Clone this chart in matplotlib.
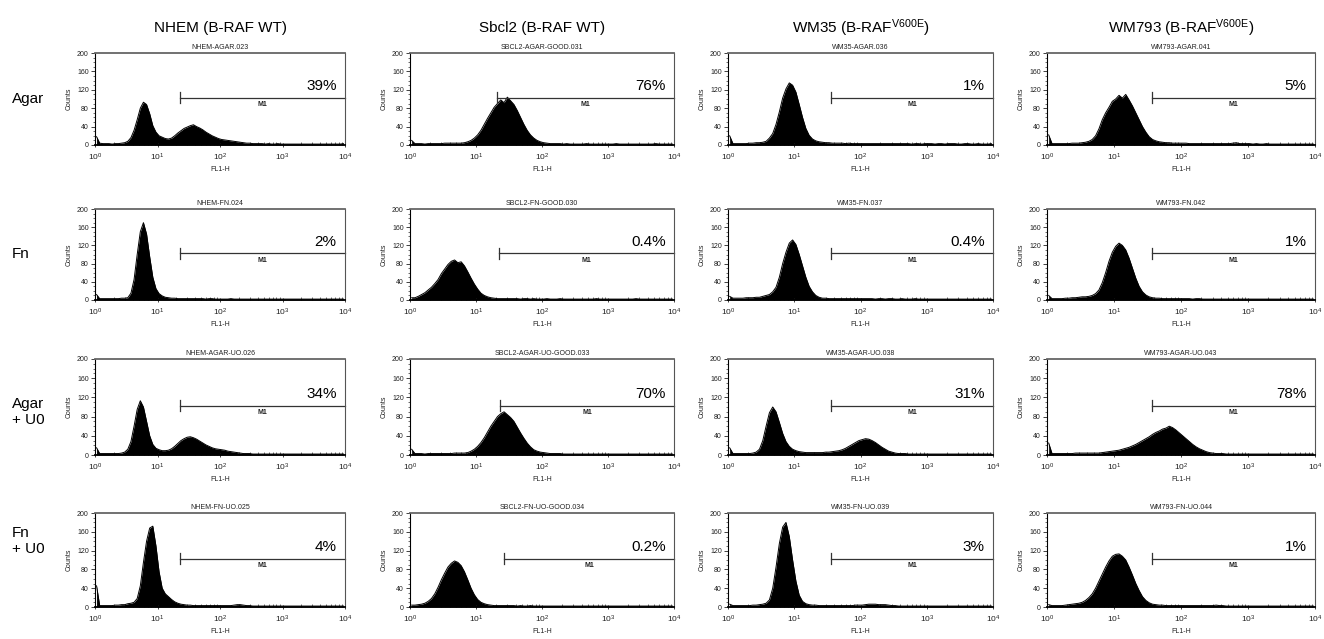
"""
plot.py

FL1-H histograms for four cell lines grown on agar / fibronectin,
with and without U0126.
"""

import matplotlib
matplotlib.use("Agg")
import matplotlib.pyplot as plt
import numpy as np
from matplotlib.ticker import MultipleLocator, LogLocator, NullFormatter


# ---------------------------------------------------------
# Common Plot Style
# ---------------------------------------------------------

plt.rcParams["font.family"] = ["Liberation Sans", "DejaVu Sans"]
plt.rcParams["mathtext.default"] = "regular"


# ---------------------------------------------------------
# Data (counts per 0.05-decade bin, 10^0 .. 10^4)
# ---------------------------------------------------------

nhem_agar = [18, 4, 3, 3, 3, 2, 3, 3, 4, 5,
             8, 16, 32, 55, 80, 93, 88, 68, 42, 28,
             20, 17, 14, 13, 15, 20, 26, 31, 36, 39,
             42, 44, 40, 37, 33, 28, 24, 20, 17, 14,
             12, 11, 10, 9, 8, 7, 6, 5, 4, 4,
             3, 3, 3, 3, 2, 3, 2, 2, 3, 2,
             2, 2, 2, 2, 2, 2, 2, 2, 2, 2,
             2, 2, 2, 2, 2, 2, 2, 2, 2, 3]
sbcl2_agar = [10, 3, 3, 3, 2, 3, 3, 3, 3, 3,
              4, 4, 4, 4, 4, 4, 5, 7, 10, 15,
              22, 32, 45, 58, 70, 82, 90, 98, 92, 104,
              96, 88, 75, 60, 45, 32, 22, 15, 10, 7,
              5, 4, 3, 3, 3, 3, 2, 3, 2, 2,
              2, 2, 2, 3, 2, 2, 2, 2, 2, 2,
              2, 2, 3, 2, 2, 2, 2, 2, 2, 2,
              2, 2, 2, 2, 3, 2, 2, 2, 2, 2]
wm35_agar = [20, 3, 3, 3, 3, 3, 4, 4, 5, 5,
             6, 8, 15, 25, 45, 72, 102, 122, 135, 130,
             115, 88, 60, 36, 21, 13, 9, 7, 6, 5,
             5, 4, 4, 4, 4, 3, 4, 3, 3, 3,
             3, 3, 3, 3, 3, 3, 3, 3, 3, 3,
             3, 3, 3, 3, 3, 2, 3, 3, 2, 3,
             3, 3, 2, 3, 3, 2, 3, 3, 3, 2,
             2, 3, 3, 2, 2, 3, 2, 2, 2, 3]
wm793_agar = [22, 3, 3, 3, 3, 3, 3, 4, 4, 4,
              5, 6, 8, 12, 20, 35, 55, 70, 82, 95,
              100, 108, 102, 110, 98, 85, 70, 55, 40, 28,
              18, 12, 9, 7, 6, 5, 5, 4, 4, 4,
              4, 4, 3, 3, 3, 3, 3, 3, 3, 3,
              3, 3, 3, 3, 3, 4, 5, 3, 3, 3,
              3, 2, 3, 2, 2, 3, 2, 2, 2, 2,
              2, 2, 2, 2, 2, 2, 2, 2, 2, 2]

nhem_fn = [12, 3, 3, 3, 3, 3, 3, 3, 4, 4,
           5, 15, 45, 100, 150, 170, 145, 95, 50, 25,
           14, 9, 6, 5, 4, 4, 3, 3, 3, 3,
           3, 3, 3, 3, 3, 2, 3, 3, 2, 2,
           2, 2, 2, 3, 2, 2, 2, 2, 2, 2,
           2, 2, 2, 2, 2, 2, 2, 2, 2, 2,
           2, 2, 2, 2, 2, 2, 2, 2, 2, 2,
           2, 2, 2, 2, 2, 2, 2, 2, 2, 2]
sbcl2_fn = [5, 5, 8, 12, 16, 22, 28, 36, 45, 58,
            68, 78, 85, 88, 82, 84, 75, 62, 48, 35,
            24, 15, 10, 7, 5, 4, 3, 3, 3, 3,
            3, 3, 3, 2, 3, 3, 2, 3, 2, 2,
            2, 3, 2, 2, 2, 3, 2, 2, 2, 2,
            2, 2, 2, 2, 2, 2, 3, 2, 2, 2,
            2, 2, 2, 2, 2, 2, 2, 2, 3, 2,
            2, 2, 2, 2, 2, 2, 2, 2, 2, 2]
wm35_fn = [8, 4, 4, 4, 4, 5, 5, 5, 6, 6,
           8, 10, 12, 18, 28, 50, 80, 105, 125, 132,
           122, 100, 75, 50, 30, 18, 10, 6, 4, 4,
           3, 3, 3, 3, 3, 3, 3, 3, 3, 3,
           3, 3, 3, 3, 2, 3, 3, 2, 3, 3,
           2, 2, 3, 2, 2, 2, 3, 2, 2, 2,
           2, 2, 2, 2, 2, 2, 2, 2, 2, 2,
           2, 2, 2, 2, 2, 2, 2, 2, 2, 2]
wm793_fn = [10, 3, 3, 3, 3, 4, 4, 5, 5, 6,
            7, 7, 8, 10, 14, 22, 38, 60, 85, 105,
            118, 125, 120, 110, 92, 70, 48, 30, 18, 11,
            7, 5, 4, 4, 3, 3, 3, 3, 3, 3,
            3, 3, 3, 2, 3, 3, 2, 2, 2, 2,
            2, 2, 2, 2, 2, 2, 2, 2, 2, 2,
            2, 2, 2, 2, 2, 2, 2, 2, 2, 2,
            2, 2, 2, 2, 2, 2, 2, 2, 2, 2]

nhem_agar_u0 = [15, 3, 3, 3, 3, 3, 3, 3, 4, 6,
                12, 28, 60, 95, 113, 100, 70, 40, 22, 14,
                11, 9, 9, 10, 13, 18, 24, 30, 34, 37,
                38, 36, 33, 29, 25, 21, 18, 15, 13, 12,
                11, 10, 8, 7, 6, 5, 4, 3, 3, 3,
                2, 2, 2, 2, 2, 2, 2, 2, 2, 2,
                2, 2, 2, 2, 2, 2, 2, 2, 2, 2,
                2, 2, 2, 2, 2, 2, 2, 2, 2, 2]
sbcl2_agar_u0 = [12, 3, 3, 3, 2, 3, 3, 3, 3, 3,
                 3, 3, 3, 4, 4, 4, 4, 5, 8, 12,
                 18, 26, 36, 48, 60, 70, 80, 86, 90, 84,
                 78, 70, 58, 46, 35, 25, 17, 11, 8, 6,
                 5, 4, 3, 3, 3, 3, 2, 2, 2, 2,
                 2, 2, 2, 2, 2, 2, 2, 2, 2, 2,
                 2, 2, 2, 2, 2, 2, 2, 2, 2, 2,
                 2, 2, 2, 2, 2, 2, 2, 2, 2, 2]
wm35_agar_u0 = [15, 3, 3, 3, 3, 3, 3, 4, 6, 12,
                30, 60, 88, 100, 90, 68, 45, 28, 18, 12,
                9, 7, 6, 5, 5, 5, 5, 5, 5, 6,
                6, 7, 8, 9, 11, 14, 18, 22, 26, 30,
                32, 34, 33, 30, 26, 21, 16, 12, 8, 6,
                4, 3, 3, 3, 2, 2, 2, 2, 2, 2,
                2, 2, 2, 2, 2, 2, 2, 2, 2, 2,
                2, 2, 2, 2, 2, 2, 2, 2, 2, 2]
wm793_agar_u0 = [25, 3, 3, 3, 3, 3, 3, 3, 4, 4,
                 4, 4, 4, 4, 4, 4, 5, 6, 7, 8,
                 9, 10, 12, 14, 16, 19, 22, 26, 30, 34,
                 38, 43, 47, 50, 54, 56, 60, 57, 52, 46,
                 40, 34, 28, 22, 17, 13, 10, 7, 5, 4,
                 3, 3, 3, 2, 2, 2, 2, 2, 2, 2,
                 2, 2, 2, 2, 2, 2, 2, 2, 2, 2,
                 2, 2, 2, 2, 2, 2, 2, 2, 2, 2]

nhem_fn_u0 = [45, 3, 3, 3, 3, 3, 4, 4, 5, 5,
              7, 8, 10, 18, 45, 95, 140, 168, 172, 130,
              75, 40, 28, 22, 16, 11, 8, 6, 5, 4,
              4, 3, 3, 3, 3, 3, 3, 3, 3, 3,
              3, 3, 3, 3, 4, 5, 5, 4, 3, 3,
              2, 2, 2, 2, 2, 2, 2, 2, 2, 2,
              2, 2, 2, 2, 2, 2, 2, 2, 2, 2,
              2, 2, 2, 2, 2, 2, 2, 2, 2, 2]
sbcl2_fn_u0 = [4, 4, 5, 6, 8, 12, 18, 28, 42, 58,
               72, 85, 93, 98, 95, 88, 75, 58, 40, 26,
               16, 10, 7, 5, 4, 3, 3, 3, 3, 3,
               3, 3, 2, 3, 2, 2, 3, 2, 2, 2,
               2, 2, 2, 2, 2, 2, 2, 2, 2, 2,
               2, 2, 2, 2, 2, 2, 2, 2, 2, 2,
               2, 2, 2, 2, 2, 2, 2, 2, 2, 2,
               2, 2, 2, 2, 2, 2, 2, 2, 2, 2]
wm35_fn_u0 = [6, 3, 3, 3, 3, 3, 3, 4, 4, 5,
              6, 8, 15, 40, 85, 135, 170, 180, 150, 100,
              55, 25, 12, 7, 5, 4, 4, 3, 3, 3,
              3, 3, 3, 3, 3, 3, 3, 3, 4, 4,
              4, 5, 6, 6, 6, 5, 5, 5, 4, 3,
              3, 2, 2, 2, 2, 2, 2, 2, 2, 2,
              2, 2, 2, 2, 2, 2, 2, 2, 2, 2,
              2, 2, 2, 2, 2, 2, 2, 2, 2, 2]
wm793_fn_u0 = [5, 3, 3, 3, 3, 4, 5, 6, 7, 8,
               10, 14, 20, 28, 40, 55, 70, 85, 98, 108,
               112, 113, 108, 100, 85, 68, 50, 35, 22, 14,
               9, 6, 5, 4, 4, 3, 3, 3, 3, 3,
               3, 3, 3, 3, 3, 3, 3, 3, 3, 3,
               4, 3, 3, 2, 2, 2, 2, 2, 2, 2,
               2, 2, 2, 2, 2, 2, 2, 2, 2, 2,
               2, 2, 2, 2, 2, 2, 2, 2, 2, 2]

cell_lines = [
    "NHEM (B-RAF WT)",
    "Sbcl2 (B-RAF WT)",
    "WM35 (B-RAF$^{V600E}$)",
    "WM793 (B-RAF$^{V600E}$)",
]

conditions = ["Agar", "Fn", "Agar\n+ U0", "Fn\n+ U0"]

sample_names = [
    ["NHEM-AGAR.023", "SBCL2-AGAR-GOOD.031", "WM35-AGAR.036", "WM793-AGAR.041"],
    ["NHEM-FN.024", "SBCL2-FN-GOOD.030", "WM35-FN.037", "WM793-FN.042"],
    ["NHEM-AGAR-UO.026", "SBCL2-AGAR-UO-GOOD.033", "WM35-AGAR-UO.038", "WM793-AGAR-UO.043"],
    ["NHEM-FN-UO.025", "SBCL2-FN-UO-GOOD.034", "WM35-FN-UO.039", "WM793-FN-UO.044"],
]

percents = [
    ["39%", "76%", "1%", "5%"],
    ["2%", "0.4%", "0.4%", "1%"],
    ["34%", "70%", "31%", "78%"],
    ["4%", "0.2%", "3%", "1%"],
]

# M1 gate start (FL1-H)
gates = [
    [23, 21, 36, 37],
    [23, 22, 36, 37],
    [23, 23, 36, 37],
    [23, 27, 36, 37],
]

marker_level = 103

counts = [
    [nhem_agar, sbcl2_agar, wm35_agar, wm793_agar],
    [nhem_fn, sbcl2_fn, wm35_fn, wm793_fn],
    [nhem_agar_u0, sbcl2_agar_u0, wm35_agar_u0, wm793_agar_u0],
    [nhem_fn_u0, sbcl2_fn_u0, wm35_fn_u0, wm793_fn_u0],
]

# bin centres, 0.05 decade apart
bin_centres = np.logspace(0.025, 3.975, 80)


# ---------------------------------------------------------
# Layout (pixels)
# ---------------------------------------------------------

W, H = 1324, 639
col_left = [95, 410, 728, 1047]
col_right = [345, 674, 993, 1315]
row_top = [53, 209, 359, 513]
row_bottom = [145, 300, 455, 607]
row_label_y = [99, 254, 412, 541]


# ---------------------------------------------------------
# One histogram panel
# ---------------------------------------------------------

def plot_panel(ax, values, name, pct, gate):

    ax.fill_between(bin_centres, 0, values, color="black", linewidth=0)
    ax.plot(bin_centres, values, color="black", linewidth=0.7)

    ax.set_xscale("log")
    ax.set_xlim(1, 1e4)
    ax.set_ylim(0, 200)

    ax.set_yticks([0, 40, 80, 120, 160, 200])
    ax.yaxis.set_minor_locator(MultipleLocator(10))
    ax.xaxis.set_major_locator(LogLocator(base=10, numticks=10))
    ax.xaxis.set_minor_locator(LogLocator(base=10, subs=np.arange(2, 10), numticks=10))
    ax.xaxis.set_minor_formatter(NullFormatter())

    ax.tick_params(axis="y", which="major", direction="out", length=3,
                   width=0.6, labelsize=5, pad=1.5, colors="#222")
    ax.tick_params(axis="y", which="minor", direction="out", length=1.5, width=0.4)
    ax.tick_params(axis="x", which="major", direction="inout", length=3.5,
                   width=0.6, labelsize=6, pad=3, colors="#222")
    ax.tick_params(axis="x", which="minor", direction="in", length=2, width=0.4)

    for side in ["left", "right", "bottom"]:
        ax.spines[side].set_linewidth(0.8)
    ax.spines["bottom"].set_linewidth(1.3)
    ax.spines["top"].set_linewidth(1.3)
    ax.spines["top"].set_color("#666")
    ax.spines["right"].set_color("#555")

    ax.set_title(name, fontsize=5, pad=3, color="#222")
    ax.set_ylabel("Counts", fontsize=5, labelpad=3, color="#222")
    ax.set_xlabel("FL1-H", fontsize=5, labelpad=2, color="#222")

    # M1 marker
    ax.plot([gate, 1e4], [marker_level, marker_level], color="#333",
            linewidth=0.9, clip_on=False)
    ax.plot([gate, gate], [marker_level - 12, marker_level + 12],
            color="#333", linewidth=0.9)
    ax.text(np.sqrt(gate * 1e4), marker_level - 8, "M1", fontsize=5,
            fontweight="bold", ha="center", va="top", color="#222")

    ax.annotate(pct, xy=(1, marker_level + 9),
                xycoords=ax.get_yaxis_transform(),
                xytext=(-6, 0), textcoords="offset points",
                ha="right", va="bottom", fontsize=11)


# ---------------------------------------------------------
# Generate everything
# ---------------------------------------------------------

fig = plt.figure(figsize=(W / 100, H / 100), dpi=100)

for r in range(4):
    for c in range(4):

        left = col_left[c] / W
        bottom = 1 - row_bottom[r] / H
        width = (col_right[c] - col_left[c]) / W
        height = (row_bottom[r] - row_top[r]) / H

        ax = fig.add_axes([left, bottom, width, height])

        plot_panel(
            ax,
            counts[r][c],
            sample_names[r][c],
            percents[r][c],
            gates[r][c]
        )

for c in range(4):
    fig.text((col_left[c] + col_right[c]) / 2 / W, 1 - 28 / H,
             cell_lines[c], ha="center", va="center", fontsize=11)

for r in range(4):
    fig.text(12 / W, 1 - row_label_y[r] / H, conditions[r],
             ha="left", va="center", fontsize=11, linespacing=1.1)

fig.savefig("out.png", dpi=100)
plt.close(fig)
